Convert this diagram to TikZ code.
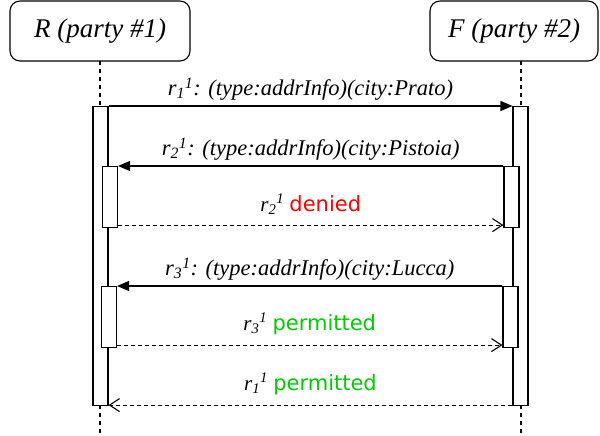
\documentclass[tikz,border=0pt]{standalone}
\usepackage{fontspec}
\setmainfont{Liberation Serif}
\newfontfamily\dvsans{DejaVu Sans}
\usetikzlibrary{arrows.meta}
\definecolor{denycol}{RGB}{255,0,0}
\definecolor{permitcol}{RGB}{0,204,0}
% request name r_i^1
\newcommand{\req}[1]{\textit{r\textsubscript{#1}\textsuperscript{1}}}
\tikzset{
  party/.style={draw, rounded corners=10pt, minimum height=60pt, inner sep=0pt, font=\fontsize{27}{30}\selectfont\itshape},
  life/.style={dashed, dash pattern=on 4pt off 4pt},
  actbar/.style={draw, fill=white, minimum width=15pt, anchor=north, inner sep=0pt},
  call/.style={-{Triangle[length=12pt,width=10pt]}},
  reply/.style={dashed, dash pattern=on 4pt off 3pt, -{Straight Barb[length=10pt,width=13pt]}},
  msg/.style={midway, above=4pt, inner sep=1pt, font=\fontsize{22.5}{26}\selectfont},
  answer/.style={msg, above=5pt, font=\fontsize{21}{24}\selectfont},
}

\begin{document}
\begin{tikzpicture}[x=1pt,y=-1pt,line width=1.1pt]
\useasboundingbox (0,0) rectangle (600,436);
\node[party, minimum width=180pt] (R) at (100,31) {R (party \#1)};
\node[party, minimum width=168pt] (F) at (514,31) {F (party \#2)};
\coordinate (Rtop) at (100,61);
\coordinate (Ftop) at (521,61);
\draw[life] (Rtop)--(100,436);
\draw[life] (Ftop)--(521,436);
% activation bars
\node[actbar, minimum height=299pt] (Ra) at (100.5,106) {};
\node[actbar, minimum height=299pt] (Fa) at (520.5,106) {};
\node[actbar, minimum height=61pt] (Rb) at (110,166) {};
\node[actbar, minimum height=61pt] (Fb) at (511.5,166) {};
\node[actbar, minimum height=61pt] (Rc) at (109,286) {};
\node[actbar, minimum height=61pt] (Fc) at (510.5,286) {};
% requests and answers
\draw[call] (Ra.north east)--(Fa.north west) node[msg] {\itshape\req{1}: (type:addrInfo)(city:Prato)};
\draw[call] (Fb.north west)--(Rb.north east) node[msg] {\itshape\req{2}: (type:addrInfo)(city:Pistoia)};
\draw[reply] ([yshift=3pt]Rb.south east)--([yshift=3pt]Fb.south west) node[answer] {\req{2} {\dvsans\color{denycol}denied}};
\draw[call] (Fc.north west)--(Rc.north east) node[msg] {\itshape\req{3}: (type:addrInfo)(city:Lucca)};
\draw[reply] ([yshift=3pt]Rc.south east)--([yshift=3pt]Fc.south west) node[answer] {\req{3} {\dvsans\color{permitcol}permitted}};
\draw[reply] ([yshift=1pt]Fa.south west)--([yshift=1pt]Ra.south east) node[answer] {\req{1} {\dvsans\color{permitcol}permitted}};
\end{tikzpicture}
\end{document}
